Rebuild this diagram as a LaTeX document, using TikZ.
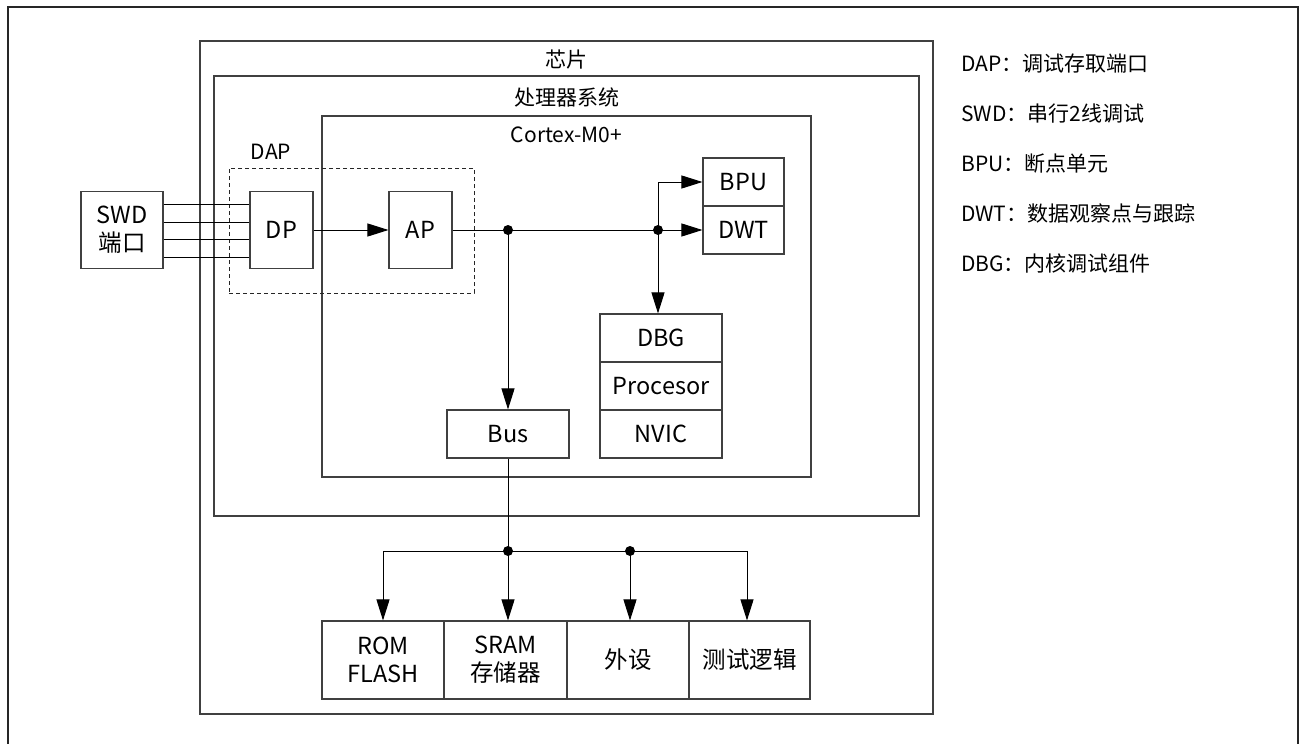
\documentclass[tikz,border=0pt]{standalone}
\usepackage{fontspec}
\setmainfont{Noto Sans CJK SC}
\usetikzlibrary{arrows.meta,calc}
\newcommand\dfont{\fontsize{21}{28}\selectfont}
\newcommand\bfontx{\fontsize{23.5}{28}\selectfont}
\begin{document}
\begin{tikzpicture}[x=1pt,y=-1pt,
  box/.style={draw=black!75, line width=1.1pt, inner sep=0pt, align=center, font=\bfontx},
  frame/.style={draw=black!75, line width=1.1pt, inner sep=0pt},
  lbl/.style={inner sep=0pt, font=\dfont},
  conn/.style={line width=1pt, draw=black},
  arr/.style={conn, -{Triangle[length=21pt,width=13pt]}},
  dot/.style={fill=black}
]
\useasboundingbox (0,0) rectangle (1302,744);
% outer frame
\draw[line width=1.6pt, black!85] (8,746) -- (8,7) -- (1298,7) -- (1298,746);

% containers
\node[frame, minimum width=733, minimum height=673] (chip) at (566.5,377.5) {};
\node[frame, minimum width=705, minimum height=440] (proc) at (566.5,296) {};
\node[frame, minimum width=489, minimum height=361] (cortex) at (566.5,296.5) {};
\node[lbl] (chipt) at (566.5,60) {芯片};
\node[lbl] (proct) at (566.5,97) {处理器系统};
\node[lbl] (cortext) at (566.5,135) {Cortex-M0+};

% DAP dashed box
\node[draw=black!85, line width=1pt, dash pattern=on 4pt off 3pt, minimum width=245, minimum height=125, inner sep=0pt] (dapbox) at (351.5,230.5) {};
\node[lbl] (dapt) at (271,152) {DAP};

% left chain
\node[box, minimum width=82, minimum height=77] (swd) at (122,230) {SWD\\端口};
\node[box, minimum width=63, minimum height=77] (dp) at (281.5,230) {DP};
\node[box, minimum width=63, minimum height=77] (ap) at (420.5,230) {AP};

% right units
\node[box, minimum width=81, minimum height=48] (bpu) at (743.5,182) {BPU};
\node[box, minimum width=81, minimum height=48] (dwt) at (743.5,230) {DWT};
\node[box, minimum width=122, minimum height=48] (dbg) at (661,338) {DBG};
\node[box, minimum width=122, minimum height=48] (cpu) at (661,386) {Procesor};
\node[box, minimum width=122, minimum height=48] (nvic) at (661,434) {NVIC};
\node[box, minimum width=122, minimum height=48] (bus) at (508,434) {Bus};

% bottom boxes
\node[box, minimum width=122, minimum height=78] (rom) at (383,660) {ROM\\FLASH};
\node[box, minimum width=123, minimum height=78] (sram) at (505.5,660) {SRAM\\存储器};
\node[box, minimum width=122, minimum height=78] (peri) at (628,660) {外设};
\node[box, minimum width=121, minimum height=78] (test) at (749.5,660) {测试逻辑};

% legend
\node[lbl, anchor=west] (l1) at (961,64) {DAP：调试存取端口};
\node[lbl, anchor=west] (l2) at (961,114) {SWD：串行2线调试};
\node[lbl, anchor=west] (l3) at (961,164) {BPU：断点单元};
\node[lbl, anchor=west] (l4) at (961,214) {DWT：数据观察点与跟踪};
\node[lbl, anchor=west] (l5) at (961,263) {DBG：内核调试组件};

% junctions
\coordinate (jA) at (508,230);
\coordinate (jB) at (658,230);
\coordinate (j1) at (508,551);
\coordinate (j2) at (630,551);
\coordinate (jL) at (383,551);
\coordinate (jR) at (747,551);

% SWD wires
\foreach \yy in {204,222,239,257} {
  \coordinate (h) at (0,\yy);
  \draw[conn] (swd.east |- h) -- (dp.west |- h);
}

% connections
\draw[arr] (dp.east) -- (ap.west);
\draw[arr] (ap.east) -- (dwt.west);
\draw[arr] (jB) |- (bpu.west);
\draw[arr] (jB) -- (jB |- dbg.north);
\draw[arr] (jA) -- (jA |- bus.north);
\draw[conn] (bus.south) -- (j1);
\draw[conn] (jL) -- (jR);
\draw[arr] (jL) -- (jL |- rom.north);
\draw[arr] (j1) -- (j1 |- sram.north);
\draw[arr] (j2) -- (j2 |- peri.north);
\draw[arr] (jR) -- (jR |- test.north);

\fill[dot] (jA) circle (5pt);
\fill[dot] (jB) circle (5pt);
\fill[dot] (j1) circle (5pt);
\fill[dot] (j2) circle (5pt);
\end{tikzpicture}
\end{document}
